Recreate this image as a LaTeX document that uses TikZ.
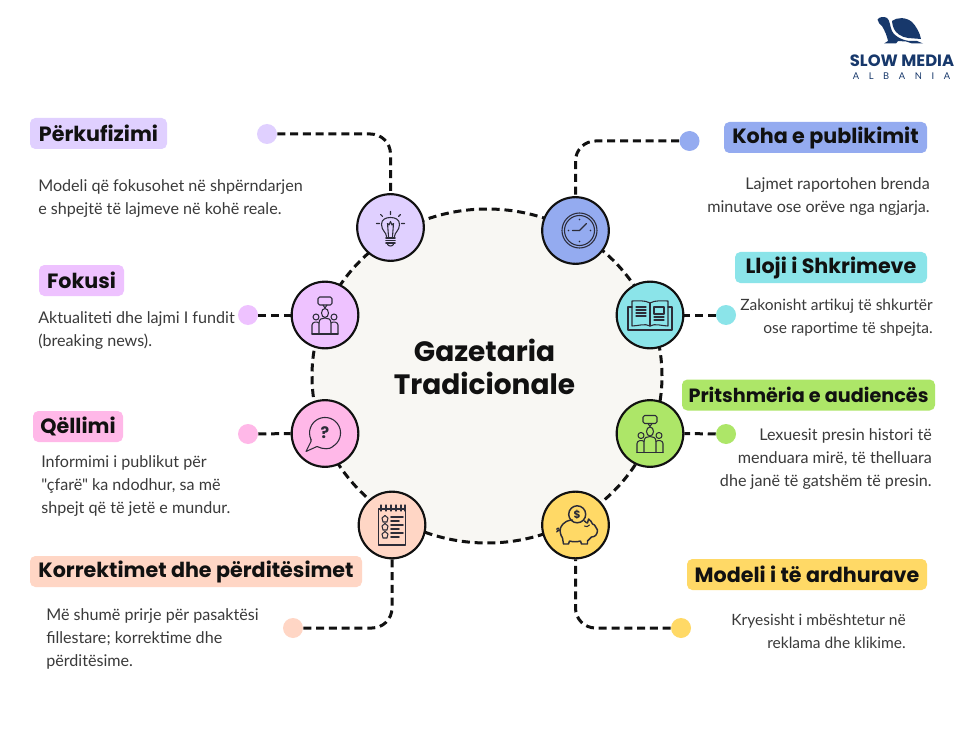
\documentclass[tikz,border=0pt]{standalone}
\usepackage{fontspec}
\setmainfont{Lato}
\newfontfamily\bodyfont{Lato}
\newfontfamily\headfont{Poppins}[BoldFont={Poppins Bold}]
\usetikzlibrary{shapes.geometric}
\definecolor{cA}{HTML}{E0D0FF}
\definecolor{cB}{HTML}{EEC2FF}
\definecolor{cC}{HTML}{FFB8E8}
\definecolor{cD}{HTML}{FFD6C5}
\definecolor{cE}{HTML}{94ABF0}
\definecolor{cF}{HTML}{8BE4E9}
\definecolor{cG}{HTML}{ADE668}
\definecolor{cH}{HTML}{FFD966}
\definecolor{ringfill}{HTML}{F8F7F3}
\definecolor{ink}{HTML}{111111}
\definecolor{icon}{HTML}{2C2C38}
\definecolor{navy}{HTML}{17386B}
\definecolor{bodytxt}{HTML}{3A3A3A}
\tikzset{
  conn/.style={draw=ink,line width=2.25pt,dash pattern=on 6pt off 3.6pt},
  hub/.style={circle,draw=ink,line width=1.6pt,minimum size=50pt,inner sep=0pt},
  dot/.style={circle,minimum size=15pt,inner sep=0pt},
  lbl/.style={rounded corners=4pt,inner sep=0pt,text=ink,font=\headfont\bfseries\fontsize{15.5}{18}\selectfont},
  body/.style={inner sep=0pt,text=bodytxt,font=\bodyfont\fontsize{12.1}{17.25}\selectfont},
  bodysmall/.style={body,font=\bodyfont\fontsize{11.65}{17.25}\selectfont},
  ic/.style={draw=icon,line width=.8pt,line join=round,line cap=round},
  icthick/.style={draw=icon,line width=1.2pt,line cap=round}
}
\begin{document}
\begin{tikzpicture}[x=.75pt,y=-.75pt]
\useasboundingbox (0,0) rectangle (975,731);
\fill[white] (0,0) rectangle (975,731);
% ring
\node[ellipse,conn,fill=ringfill,minimum width=262.5pt,minimum height=250.5pt,inner sep=0pt] (ring) at (487,376) {};
\node[inner sep=0pt,align=center,text=ink,font=\headfont\bfseries\fontsize{21}{24.75}\selectfont] (title) at (484.5,367) {Gazetaria\\Tradicionale};
% hubs
\node[hub,fill=cA] (c1) at (390.5,227.5) {};
\node[hub,fill=cB] (c2) at (325,315) {};
\node[hub,fill=cC] (c3) at (325,433.5) {};
\node[hub,fill=cD] (c4) at (392,525) {};
\node[hub,fill=cE] (c5) at (575.5,230.5) {};
\node[hub,fill=cF] (c6) at (650,315) {};
\node[hub,fill=cG] (c7) at (650,433.5) {};
\node[hub,fill=cH] (c8) at (575.5,525) {};
% dots
\node[dot,fill=cA] (d1) at (267,134) {};
\node[dot,fill=cB] (d2) at (248,315) {};
\node[dot,fill=cC] (d3) at (248,434) {};
\node[dot,fill=cD] (d4) at (293,628) {};
\node[dot,fill=cE] (d5) at (689.5,141) {};
\node[dot,fill=cF] (d6) at (726,315) {};
\node[dot,fill=cG] (d7) at (726,434) {};
\node[dot,fill=cH] (d8) at (681,628) {};
% connectors
\draw[conn,rounded corners=15pt] (d1.east) -| (c1.north);
\draw[conn] (d2.east) -- (c2.west);
\draw[conn] (d3.east) -- (c3.west);
\draw[conn,rounded corners=15pt] (d4.east) -| (c4.south);
\draw[conn,rounded corners=15pt] (d5.west) -| (c5.north);
\draw[conn] (d6.west) -- (c6.east);
\draw[conn] (d7.west) -- (c7.east);
\draw[conn,rounded corners=15pt] (d8.west) -| (c8.south);
% labels
\node[lbl,fill=cA,minimum width=102.75pt,minimum height=23.25pt] (l1) at (98.5,133.5) {Përkufizimi};
\node[lbl,fill=cB,minimum width=63.75pt,minimum height=23.25pt] (l2) at (81.5,280.5) {Fokusi};
\node[lbl,fill=cC,minimum width=67.5pt,minimum height=23.25pt] (l3) at (78,426.5) {Qëllimi};
\node[lbl,fill=cD,minimum width=249pt,minimum height=23.25pt] (l4) at (196,571.5) {Korrektimet dhe përditësimet};
\node[lbl,fill=cE,minimum width=152.25pt,minimum height=23.25pt] (l5) at (825.5,137.5) {Koha e publikimit};
\node[lbl,fill=cF,minimum width=144pt,minimum height=23.25pt] (l6) at (831,267.5) {Lloji i Shkrimeve};
\node[lbl,fill=cG,minimum width=189.75pt,minimum height=23.25pt,font=\headfont\bfseries\fontsize{14.4}{18}\selectfont] (l7) at (808.5,395) {Pritshmëria e audiencës};
\node[lbl,fill=cH,minimum width=180pt,minimum height=23.25pt] (l8) at (807,574.5) {Modeli i të ardhurave};
% body text
\node[body,anchor=west,align=left] (b1) at (38,198.5) {Modeli që fokusohet në shpërndarjen\\e shpejtë të lajmeve në kohë reale.};
\node[body,anchor=west,align=left] (b2) at (38,331) {Aktualiteti dhe lajmi I fundit\\(breaking news).};
\node[body,anchor=west,align=left] (b3) at (41,486) {Informimi i publikut për\\"çfarë" ka ndodhur, sa më\\shpejt që të jetë e mundur.};
\node[body,anchor=west,align=left] (b4) at (46,638.5) {Më shumë prirje për pasaktësi\\fillestare; korrektime dhe\\përditësime.};
\node[body,anchor=east,align=right] (b5) at (930,196.5) {Lajmet raportohen brenda\\minutave ose orëve nga ngjarja.};
\node[bodysmall,anchor=east,align=right] (b6) at (933,318) {Zakonisht artikuj të shkurtër\\ose raportime të shpejta.};
\node[body,anchor=east,align=right] (b7) at (932,459.5) {Lexuesit presin histori të\\menduara mirë, të thelluara\\dhe janë të gatshëm të presin.};
\node[bodysmall,anchor=east,align=right] (b8) at (906,631) {Kryesisht i mbështetur në\\reklama dhe klikime.};
% icon: bulb
\begin{scope}[shift={(c1.center)}]
\draw[ic] (-4,9) .. controls (-4,5) and (-9,3) .. (-9,-3) .. controls (-9,-8) and (-5,-10) .. (0,-10) .. controls (5,-10) and (9,-8) .. (9,-3) .. controls (9,3) and (4,5) .. (4,9);
\draw[ic] (-2,9) -- (-3,-4) -- (-1.5,-2.5) -- (0,-6) -- (1.5,-2.5) -- (3,-4) -- (2,9);
\draw[icthick] (-4.5,10.5) -- (4.5,10.5) (-4.5,13) -- (4.5,13) (-4.5,15.5) -- (4.5,15.5);
\draw[ic] (-3,17) .. controls (-2,19) and (2,19) .. (3,17);
\draw[ic] (0,-16) -- (0,-13) (-10,-13) -- (-8,-11) (10,-13) -- (8,-11) (-14,-4) -- (-11,-4) (14,-4) -- (11,-4);
\end{scope}
% icon: people (c2, c7)
\foreach \hubname in {c2,c7}{
\begin{scope}[shift={(\hubname.center)}]
\draw[ic,rounded corners=1.2pt] (-7,-18) rectangle (7,-10);
\draw[ic] (-2,-10) -- (0,-7) -- (2,-10);
\draw[ic] (0,-2) ellipse [x radius=3.5,y radius=4.5];
\draw[ic] (-9,2) circle [radius=3];
\draw[ic] (9,2) circle [radius=3];
\draw[ic] (-6,19) -- (-6,8) .. controls (-6,4) and (-3,3) .. (0,3) .. controls (3,3) and (6,4) .. (6,8) -- (6,19);
\draw[ic] (-13,19) -- (-13,10) .. controls (-13,7) and (-8,6) .. (-6,8);
\draw[ic] (13,19) -- (13,10) .. controls (13,7) and (8,6) .. (6,8);
\draw[ic] (-13,19) -- (13,19);
\end{scope}}
% icon: question bubble
\begin{scope}[shift={(c3.center)}]
\draw[ic] (-14,6) arc[start angle=-155,end angle=-420,x radius=15.5,y radius=-15.5];
\draw[ic] (-14,6) -- (-14,8) -- (-19,18) -- (-8,13) .. controls (-2,16) and (5,16) .. (8,13);
\node[inner sep=0pt,text=icon,font=\headfont\bfseries\fontsize{12}{12}\selectfont] (q) at (0,-1) {?};
\end{scope}
% icon: notepad
\begin{scope}[shift={(c4.center)}]
\draw[ic] (-13.5,-16) rectangle (13.5,20);
\foreach \xx in {-11,-6,-1,4,9,13}{\draw[ic] (\xx,-20) -- (\xx,-14);}
\foreach \yy in {-6,2,10}{
  \draw[ic] (-7,\yy-3.5) -- (-4,\yy-1) -- (-5,\yy+3) -- (-9,\yy+3) -- (-10,\yy-1) -- cycle;
  \draw[icthick] (-1,\yy-2) -- (11,\yy-2);
  \draw[icthick] (-1,\yy+2) -- (7,\yy+2);
}
\end{scope}
% icon: clock
\begin{scope}[shift={(c5.center)}]
\draw[ic] (4,0) circle [radius=17.5];
\draw[ic] (4,0) circle [radius=15];
\draw[ic,line width=1pt] (-3,0) -- (4,0) -- (11,-7);
\fill[icon] (4,-11) circle [radius=.8] (4,11) circle [radius=.8] (-7,0) circle [radius=.8] (15,0) circle [radius=.8];
\end{scope}
% icon: book
\begin{scope}[shift={(c6.center)}]
\draw[ic] (-18,-8) -- (-22,-8) -- (-22,15) -- (22,15) -- (22,-8) -- (18,-8);
\draw[ic] (0,11) .. controls (-5,8) and (-12,11) .. (-18,11) -- (-18,-14) .. controls (-12,-14) and (-5,-15) .. (0,-12) .. controls (5,-15) and (12,-14) .. (18,-14) -- (18,11) .. controls (12,11) and (5,8) .. (0,11) -- cycle;
\draw[ic] (0,-12) -- (0,11);
\draw[ic] (-14,-8) -- (-4,-8) (-14,-5) -- (-4,-5) (-14,-2) -- (-4,-2) (-14,1) -- (-4,1);
\draw[ic] (4,-8) rectangle (14,-1);
\draw[ic] (4,2) -- (14,2) (4,5) -- (14,5);
\end{scope}
% icon: piggy bank
\begin{scope}[shift={(c8.center)}]
\draw[ic,line width=1.1pt] (-15,3) .. controls (-12,-4) and (-6,-5) .. (-3,-5);
\draw[ic,line width=1.1pt] (9,-4) .. controls (10,-3) and (11,-2) .. (12,-2) -- (13,-6) .. controls (15,-5) and (16,-3) .. (17,-1) -- (19,0) -- (22,5) .. controls (22,9) and (20,12) .. (16,12) .. controls (14,14) and (13,15) .. (12,16) -- (12,19) -- (6,19) -- (5,16) .. controls (2,17) and (-3,17) .. (-6,16) -- (-7,19) -- (-12,19) -- (-13,13) .. controls (-15,10) and (-16,6) .. (-15,3);
\draw[ic,line width=1.1pt] (1.7,-10.7) circle [radius=8.5];
\node[inner sep=0pt,text=icon,font=\headfont\bfseries\fontsize{8}{8}\selectfont] (dollar) at (1.7,-10.7) {\$};
\draw[ic] (-15,5) .. controls (-19,7) and (-20,3) .. (-17,3) .. controls (-16,3) and (-16,6) .. (-19,7);
\draw[ic] (9,1) .. controls (10,2) and (13,2) .. (14,0);
\end{scope}
% logo
\path[fill=navy] (877.5,19.5) .. controls (879,17) and (884,16) .. (887,18) .. controls (890,20) and (890,27) .. (892,31) .. controls (895,37) and (904,41) .. (911,41) -- (917,41) -- (923,43.5) -- (912,43.5) -- (906,41.5) -- (898,41) -- (896,43.5) -- (884,43.5) -- (888,41) .. controls (887,36) and (885,31) .. (882,26) .. controls (880,25) and (878,22) .. (877.5,19.5) -- cycle;
\path[fill=navy] (892,21) .. controls (897,17) and (906,17) .. (912,22) .. controls (916,26) and (920,33) .. (921,39) -- (908,38) .. controls (901,37) and (896,33) .. (894,29) .. controls (893,26) and (892,24) .. (892,21) -- cycle;
\node[inner sep=0pt,text=navy,font=\headfont\bfseries\fontsize{12.3}{14}\selectfont] (brand) at (902,60.5) {SLOW MEDIA};
\node[inner sep=0pt,text=navy,font=\bodyfont\fontsize{7}{9}\selectfont] (brandsub) at (901.5,76) {A\hspace{1.03em}L\hspace{1.03em}B\hspace{1.03em}A\hspace{1.03em}N\hspace{1.03em}I\hspace{1.03em}A};
\end{tikzpicture}
\end{document}
